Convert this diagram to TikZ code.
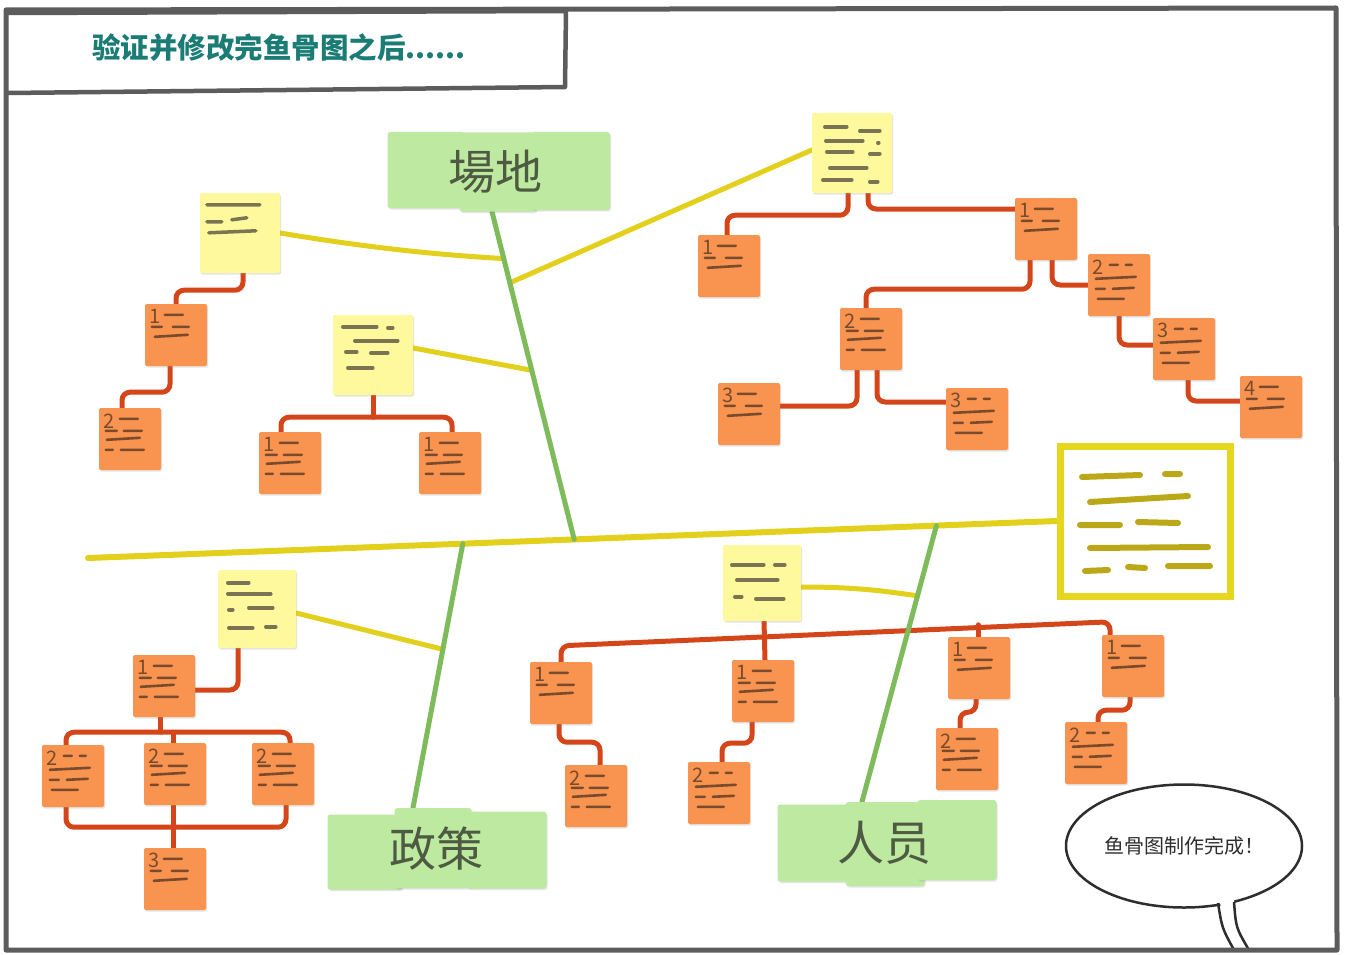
\documentclass[tikz,border=0pt]{standalone}
\usepackage{fontspec}
\setmainfont{Noto Sans CJK SC}
\usetikzlibrary{calc,shadows,shapes.geometric}
\definecolor{framec}{HTML}{5C5C5C}
\definecolor{titlec}{HTML}{1B7C76}
\definecolor{onotec}{HTML}{F89450}
\definecolor{ynotec}{HTML}{FEF99C}
\definecolor{gnotec}{HTML}{BDE9A0}
\definecolor{oconc}{HTML}{D4461A}
\definecolor{yconc}{HTML}{E3D01C}
\definecolor{gconc}{HTML}{7EBB5A}
\definecolor{oscribc}{HTML}{7A4A2C}
\definecolor{yscribc}{HTML}{7A7452}
\definecolor{headc}{HTML}{E6D61E}
\definecolor{hscribc}{HTML}{BBA818}
\definecolor{cattextc}{HTML}{4E5A42}
\definecolor{bubc}{HTML}{2E2E2E}
\pgfdeclarelayer{back}
\pgfdeclarelayer{bg}
\pgfsetlayers{back,bg,main}
\tikzset{
 shad/.style={drop shadow={opacity=0.22,shadow xshift=1pt,shadow yshift=-1.5pt}},
 onote/.style={fill=onotec, minimum width=62pt, minimum height=62pt, rounded corners=2pt, inner sep=0pt, shad},
 ynote/.style={fill=ynotec, minimum width=80pt, minimum height=80pt, rounded corners=2pt, inner sep=0pt, shad},
 gnote/.style={fill=gnotec, rounded corners=3pt, inner sep=0pt, shad},
 ocon/.style={draw=oconc, line width=5pt, rounded corners=8pt, line cap=round, line join=round},
 ycon/.style={draw=yconc, line width=5pt, line cap=round},
 gcon/.style={draw=gconc, line width=5pt, line cap=round},
 oscrib/.style={draw=oscribc, line width=2.6pt, line cap=round},
 yscrib/.style={draw=yscribc, line width=3.5pt, line cap=round},
 hscrib/.style={draw=hscribc, line width=6pt, line cap=round},
 frame/.style={draw=framec, line width=5pt, line join=round, line cap=round},
 digit/.style={text=oscribc, font=\fontsize{20}{20}\selectfont, inner sep=0pt},
 cattext/.style={text=cattextc, font=\fontsize{47}{47}\selectfont, inner sep=0pt},
}
\newcommand\mknote[5]{%
  \node[onote] (#1) at (#2,#3) {};
  \begin{scope}[shift={(#1.north west)}]
    \node[digit] at (10,13) {#4};
    \ifcase#5\or
      \draw[oscrib] (20,11)--(38,11) (7,23)--(17,23) (28,23)--(44,23) (10,33)--(43,31);
    \or
      \draw[oscrib] (21,11)--(39,11) (7,23)--(18,23) (25,23)--(43,23) (8,32)--(41,30) (7,42)--(14,42) (22,42)--(45,42);
    \or
      \draw[oscrib] (22,11)--(30,11) (38,11)--(44,11) (8,25)--(48,23) (8,35)--(17,35) (25,35)--(46,34) (10,45)--(36,45);
    \fi
  \end{scope}}
\begin{document}
\begin{tikzpicture}[x=1pt,y=-1pt]
\useasboundingbox (0,0) rectangle (1346,955);
\begin{pgfonlayer}{back}
\fill[white] (0,0) rectangle (1346,955);
\end{pgfonlayer}

% ---------- title ----------
\draw[frame, line width=4.5pt] (8,13) -- (566,11) -- (565,87) -- (8,93);
\node[anchor=west, text=titlec, font=\bfseries\fontsize{28.5}{28.5}\selectfont, inner sep=0pt] (title) at (92,48) {验证并修改完鱼骨图之后......};

% ---------- head box ----------
\node[draw=headc, line width=7pt, minimum width=170pt, minimum height=150pt] (hb) at (1145,521) {};
\draw[hscrib] (1082,477)--(1140,475) (1165,474)--(1180,474)
  (1090,502)--(1188,496)
  (1080,525)--(1120,525) (1138,522)--(1178,523)
  (1090,548)--(1208,547)
  (1085,571)--(1108,570) (1128,567)--(1145,568) (1168,566)--(1210,566);

% ---------- category notes ----------
\node[gnote, minimum width=77pt, minimum height=76pt] (c1a) at (426,170) {};
\node[gnote, minimum width=77pt, minimum height=79pt] (c1b) at (498,172) {};
\node[gnote, minimum width=78pt, minimum height=78pt] (c1c) at (571,171) {};
\node[cattext] (c1) at (495,172) {場地};
\node[gnote, minimum width=75pt, minimum height=75pt] (c2a) at (365,852) {};
\node[gnote, minimum width=77pt, minimum height=80pt] (c2b) at (433,848) {};
\node[gnote, minimum width=79pt, minimum height=77pt] (c2c) at (507,850) {};
\node[cattext] (c2) at (436,849) {政策};
\node[gnote, minimum width=75pt, minimum height=77pt] (c3a) at (815,843) {};
\node[gnote, minimum width=79pt, minimum height=84pt] (c3b) at (885,844) {};
\node[gnote, minimum width=79pt, minimum height=80pt] (c3c) at (957,840) {};
\node[cattext] (c3) at (884,843) {人员};

% ---------- yellow notes ----------
\node[ynote] (ya) at (240,233) {};
\begin{scope}[shift={(ya.north west)}]
 \draw[yscrib] (7,12)--(60,12) (7,29)--(22,29) (32,27)--(47,25) (9,40)--(56,38);
\end{scope}
\node[ynote] (yb) at (852,153) {};
\begin{scope}[shift={(yb.north west)}]
 \draw[yscrib] (13,14)--(35,14) (48,18)--(68,18) (14,28)--(51,28) (66,30)--(67,30)
   (15,39)--(41,39) (58,41)--(68,41) (18,55)--(55,55) (11,67)--(40,67) (58,69)--(66,69);
\end{scope}
\node[ynote] (yc) at (373,355) {};
\begin{scope}[shift={(yc.north west)}]
 \draw[yscrib] (10,12)--(44,12) (55,13)--(60,13) (22,26)--(65,26) (13,37)--(24,37) (38,38)--(55,38) (15,53)--(40,53);
\end{scope}
\node[ynote, minimum width=78pt, minimum height=78pt] (yd) at (257,609) {};
\begin{scope}[shift={(yd.north west)}]
 \draw[yscrib] (10,13)--(31,13) (10,24)--(53,24) (11,40)--(15,40) (31,38)--(55,38) (11,58)--(35,58) (48,57)--(58,57);
\end{scope}
\node[ynote, minimum width=78pt, minimum height=76pt] (ye) at (762,583) {};
\begin{scope}[shift={(ye.north west)}]
 \draw[yscrib] (9,20)--(41,20) (52,20)--(62,20) (14,35)--(55,35) (12,52)--(19,52) (33,54)--(61,54);
\end{scope}

% ---------- orange notes ----------
\mknote{o1}{176}{335}{1}{1}
\mknote{o2}{130}{439}{2}{2}
\mknote{o3}{290}{463}{1}{2}
\mknote{o4}{450}{463}{1}{2}
\mknote{o5}{729}{266}{1}{1}
\mknote{o6}{1046}{229}{1}{1}
\mknote{o7}{871}{339}{2}{2}
\mknote{o8}{1119}{285}{2}{3}
\mknote{o9}{1184}{349}{3}{3}
\mknote{o10}{1271}{407}{4}{1}
\mknote{o11}{749}{414}{3}{1}
\mknote{o12}{977}{419}{3}{3}
\mknote{o13}{164}{686}{1}{2}
\mknote{o14}{73}{776}{2}{3}
\mknote{o15}{175}{774}{2}{2}
\mknote{o16}{283}{774}{2}{2}
\mknote{o17}{175}{879}{3}{1}
\mknote{o18}{561}{693}{1}{1}
\mknote{o19}{763}{691}{1}{2}
\mknote{o20}{979}{668}{1}{1}
\mknote{o21}{1133}{666}{1}{1}
\mknote{o22}{596}{796}{2}{2}
\mknote{o23}{719}{793}{2}{3}
\mknote{o24}{967}{759}{2}{2}
\mknote{o25}{1096}{753}{2}{3}

% ---------- coordinates on spine and bones ----------
\coordinate (tail) at (88,558);
\coordinate (j1) at ($(tail)!0.502!(hb.west)$);
\coordinate (j2) at ($(tail)!0.387!(hb.west)$);
\coordinate (j3) at ($(tail)!0.876!(hb.west)$);
\coordinate (b1top) at ([xshift=-6pt]c1b.south);
\coordinate (b2bot) at ([xshift=-20pt]c2b.north);
\coordinate (b3bot) at ([xshift=-23pt]c3b.north);
\coordinate (b1a) at ($(b1top)!0.143!(j1)$);
\coordinate (b1b) at ($(b1top)!0.217!(j1)$);
\coordinate (b1c) at ($(b1top)!0.484!(j1)$);
\coordinate (b2a) at ($(j2)!0.40!(b2bot)$);
\coordinate (b3a) at ($(j3)!0.254!(b3bot)$);

% ---------- connectors ----------
\begin{pgfonlayer}{bg}
\draw[ycon, line width=6pt] (tail) -- (hb.west);
\draw[ycon] (ya.east) .. controls +(60,10) and +(-90,-5) .. (b1a);
\draw[ycon] ([yshift=3pt]yb.west) -- (b1b);
\draw[ycon] ([yshift=7pt]yc.east) -- (b1c);
\draw[ycon] ([yshift=-4pt]yd.east) -- (b2a);
\draw[ycon] ([yshift=-4pt]ye.east) .. controls +(60,0) and +(-30,-4) .. (b3a);
% orange
\draw[ocon] ([xshift=3pt]ya.south) -- ++(0,17) -| (o1.north);
\draw[ocon] ([xshift=-6pt]o1.south) -- ++(0,26) -| ([xshift=-8pt]o2.north);
\draw[ocon] (yc.south) -- ++(0,22) coordinate (yc1);
\draw[ocon] ([xshift=-9pt]o3.north) |- (yc1) -| ([xshift=2pt]o4.north);
\draw[ocon] ([xshift=-4pt]yb.south) -- ++(0,22) -| ([xshift=-2pt]o5.north);
\draw[ocon] ([xshift=16pt]yb.south) |- ([yshift=20pt]o6.west);
\draw[ocon] ([xshift=-16pt]o6.south) -- ++(0,29) -| ([xshift=-5pt]o7.north);
\draw[ocon] ([xshift=6pt]o6.south) |- (o8.west);
\draw[ocon] (o8.south) |- ([yshift=4pt]o9.west);
\draw[ocon] ([xshift=4pt]o9.south) |- ([yshift=6pt]o10.west);
\draw[ocon] ([xshift=-14pt]o7.south) |- ([yshift=8pt]o11.east);
\draw[ocon] ([xshift=6pt]o7.south) |- ([yshift=17pt]o12.west);
\draw[ocon] ([xshift=-19pt]yd.south) |- ([yshift=-4pt]o13.east);
\draw[ocon] ([xshift=-4pt]o13.south) -- ++(0,15) coordinate (b13);
\draw[ocon] ([xshift=-7pt]o14.north) |- (b13) -| ([xshift=7pt]o16.north);
\draw[ocon] ([xshift=-2pt]o15.north) -- ([xshift=-2pt]o15.north |- b13);
\coordinate (b15) at ($(o15.south)+(0,22)$);
\draw[ocon] ([xshift=-7pt]o14.south) |- (b15) -| ([xshift=3pt]o16.south);
\draw[ocon] ([xshift=-2pt]o15.south) -- ([xshift=-2pt]o17.north);
\draw[ocon] (o18.north) -- ([yshift=16pt]o18.north) -- ([xshift=-23pt,yshift=13pt]o21.north) -- ([xshift=-23pt]o21.north);
\draw[ocon] ([xshift=2pt]ye.south) -- ([xshift=2pt]o19.north);
\draw[ocon] ([xshift=-1pt]o20.north) -- ++(0,-12);
\draw[ocon] ([xshift=-2pt]o18.south) -- ++(0,18) -| ([xshift=4pt]o22.north);
\draw[ocon] ([xshift=-11pt]o19.south) -- ++(0,21) -| ([xshift=3pt]o23.north);
\draw[ocon] ([xshift=-3pt]o20.south) -- ++(0,13) -| ([xshift=-7pt]o24.north);
\draw[ocon] ([xshift=-3pt]o21.south) -- ++(0,13) -| ([xshift=2pt]o25.north);
% green bones
\draw[gcon] (b1top) -- (j1);
\draw[gcon] (j2) -- (b2bot);
\draw[gcon] (j3) -- (b3bot);
\end{pgfonlayer}

% ---------- speech bubble ----------
\node[draw=bubc, line width=2.5pt, ellipse, minimum width=236pt, minimum height=123pt, text=bubc, font=\fontsize{20}{20}\selectfont] (bub) at (1184,846) {鱼骨图制作完成！};
\fill[white] (1219,898) -- (1233,898) -- (1250,950) -- (1230,950) -- cycle;
\draw[bubc, line width=2.5pt] (1218,903) .. controls (1222,928) .. (1234,950);
\draw[bubc, line width=2.5pt] (1234,902) .. controls (1236,928) .. (1249,950);

% ---------- outer frame ----------
\draw[frame] (6,10) -- (1336,8) -- (1337,950) -- (6,950) -- cycle;
\end{tikzpicture}
\end{document}
